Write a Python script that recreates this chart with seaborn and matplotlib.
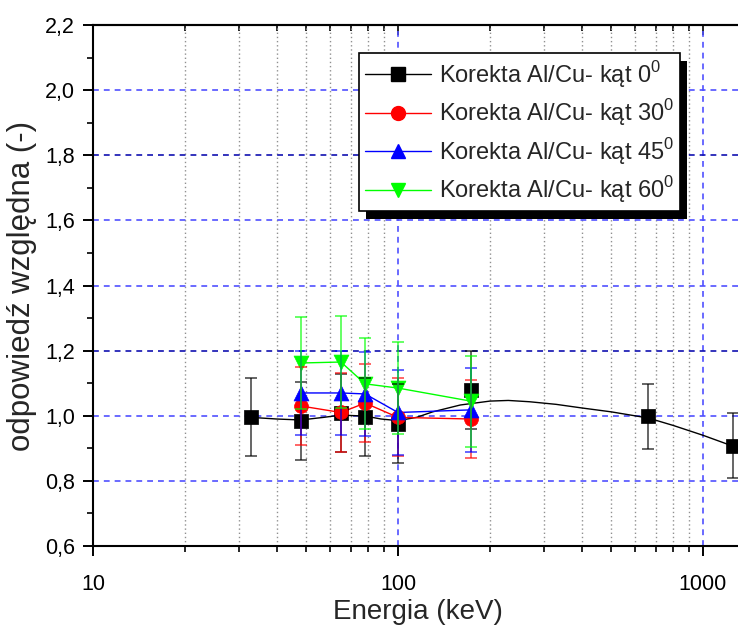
import numpy as np
import pandas as pd
import matplotlib
matplotlib.use("Agg")
import matplotlib.pyplot as plt
import matplotlib.ticker as mticker
from matplotlib.lines import Line2D
from matplotlib.patches import Rectangle
from matplotlib.transforms import IdentityTransform
import seaborn as sns

# ---------------- data ----------------
energy_0 = [33, 48, 65, 78, 100, 173, 662, 1250]
resp_0 = [0.996, 0.985, 1.008, 0.996, 0.976, 1.079, 0.998, 0.908]
err_0 = [0.12, 0.12, 0.12, 0.12, 0.12, 0.12, 0.10, 0.10]

energy_30 = [48, 65, 78, 100, 173]
resp_30 = [1.030, 1.010, 1.039, 0.995, 0.990]
err_30 = [0.12, 0.12, 0.12, 0.12, 0.12]

energy_45 = [48, 65, 78, 100, 173]
resp_45 = [1.070, 1.070, 1.067, 1.010, 1.018]
err_45 = [0.13, 0.13, 0.13, 0.13, 0.13]

energy_60 = [48, 65, 78, 100, 173]
resp_60 = [1.162, 1.165, 1.098, 1.085, 1.045]
err_60 = [0.14, 0.14, 0.14, 0.14, 0.14]

# smooth curve drawn through the 0 deg series
fit_energy_0 = [33, 40, 48, 57, 65, 78, 88, 100, 115, 130, 160, 200, 230,
                270, 330, 400, 500, 662, 800, 1000, 1250]
fit_resp_0 = [0.995, 0.990, 0.987, 0.995, 1.002, 0.999, 0.990, 0.985, 0.995,
              1.012, 1.033, 1.045, 1.047, 1.043, 1.035, 1.024, 1.012, 0.993,
              0.970, 0.940, 0.907]

series_labels = [r"Korekta Al/Cu- kąt 0$^\mathregular{0}$",
                 r"Korekta Al/Cu- kąt 30$^\mathregular{0}$",
                 r"Korekta Al/Cu- kąt 45$^\mathregular{0}$",
                 r"Korekta Al/Cu- kąt 60$^\mathregular{0}$"]
series_colors = ["#000000", "#ff0000", "#0000ff", "#00ff00"]
series_markers = ["s", "o", "^", "v"]
marker_areas = [95, 100, 115, 115]

x_ticks = [10, 100, 1000]
x_tick_labels = ["10", "100", "1000"]
y_ticks = [0.6, 0.8, 1.0, 1.2, 1.4, 1.6, 1.8, 2.0, 2.2]
y_tick_labels = ["0,6", "0,8", "1,0", "1,2", "1,4", "1,6", "1,8", "2,0", "2,2"]

x_label = "Energia (keV)"
y_label = "odpowiedź względna (-)"

# ---------------- style ----------------
sns.set_theme(style="white")
plt.rcParams["font.family"] = ["Liberation Sans", "DejaVu Sans"]
plt.rcParams["mathtext.fontset"] = "custom"
plt.rcParams["mathtext.rm"] = "Liberation Sans"

fig = plt.figure(figsize=(7.38, 6.28), dpi=100)
ax = fig.add_axes([93 / 738, 82 / 628, 650 / 738, 521 / 628])
ax.set_xscale("log")
ax.set_xlim(10, 10 ** (1 + 650 / 305))
ax.set_ylim(0.6, 2.2)

# grid lines
for yv in y_ticks[1:-1]:
    dark = abs(yv - 1.2) < 1e-9 or abs(yv - 1.8) < 1e-9
    ax.axhline(yv, color="#1010b0" if dark else "#5050ff", lw=1.2,
               ls=(0, (3.5, 3.0)), zorder=1)
ax.xaxis.grid(True, which="minor", color="#909090", ls=(0, (1, 2)), lw=1.0, zorder=1)
ax.xaxis.grid(True, which="major", color="#5050ff", ls=(0, (3.5, 3.0)), lw=1.2, zorder=1)
ax.set_axisbelow(True)

# data frames
frames = []
for e, r, s, lab in [(energy_0, resp_0, err_0, series_labels[0]),
                     (energy_30, resp_30, err_30, series_labels[1]),
                     (energy_45, resp_45, err_45, series_labels[2]),
                     (energy_60, resp_60, err_60, series_labels[3])]:
    frames.append(pd.DataFrame({"energy": e, "resp": r, "err": s, "series": lab}))
df = pd.concat(frames, ignore_index=True)
fit_df = pd.DataFrame({"energy": fit_energy_0, "resp": fit_resp_0})

# lines
sns.lineplot(data=fit_df, x="energy", y="resp", color="black", lw=1.0,
             ax=ax, zorder=2, sort=False)
for lab, col in zip(series_labels[1:], series_colors[1:]):
    sub = df[df["series"] == lab]
    sns.lineplot(data=sub, x="energy", y="resp", color=col, lw=1.0, ax=ax,
                 zorder=2, sort=False)

# markers
for lab, col, mk, ms in zip(series_labels, series_colors, series_markers, marker_areas):
    sub = df[df["series"] == lab]
    sns.scatterplot(data=sub, x="energy", y="resp", color=col, marker=mk,
                    s=ms, edgecolor=col, linewidth=0.5, ax=ax, zorder=3,
                    clip_on=False)

# error bars (drawn over markers)
for lab, col in zip(series_labels, series_colors):
    sub = df[df["series"] == lab]
    ax.errorbar(sub["energy"], sub["resp"], yerr=sub["err"], fmt="none",
                ecolor=col, elinewidth=1.3, capsize=4.5, capthick=1.3,
                alpha=0.65, zorder=4)

# axes styling
ax.set_xticks(x_ticks)
ax.set_xticklabels(x_tick_labels)
ax.xaxis.set_minor_locator(mticker.LogLocator(base=10, subs=np.arange(2, 10)))
ax.xaxis.set_minor_formatter(mticker.NullFormatter())
ax.set_yticks(y_ticks)
ax.set_yticklabels(y_tick_labels)
ax.yaxis.set_minor_locator(mticker.MultipleLocator(0.1))

ax.tick_params(axis="both", which="major", direction="out", length=7, width=1.4,
               labelsize=15.5, colors="black")
ax.tick_params(axis="x", which="major", pad=13)
ax.tick_params(axis="y", which="major", pad=6)
ax.tick_params(axis="both", which="minor", direction="out", length=4, width=1.4)
ax.tick_params(left=True, bottom=True, right=False, top=False, which="both")

for sp in ["left", "bottom", "top"]:
    ax.spines[sp].set_color("black")
    ax.spines[sp].set_linewidth(1.5)
ax.spines["right"].set_visible(False)

top = ax.secondary_xaxis("top")
top.set_xticks(x_ticks)
top.xaxis.set_minor_locator(mticker.LogLocator(base=10, subs=np.arange(2, 10)))
top.tick_params(which="major", direction="in", length=7, width=1.4, labeltop=False)
top.tick_params(which="minor", direction="in", length=4, width=1.4)
top.xaxis.set_minor_formatter(mticker.NullFormatter())
top.set_xticklabels([])
top.spines["top"].set_linewidth(1.5)

ax.set_xlabel(x_label, fontsize=20, labelpad=3)
ax.set_ylabel(y_label, fontsize=22.5, labelpad=6)

# legend
handles = [Line2D([], [], color=c, marker=m, markersize=10, lw=1.0)
           for c, m in zip(series_colors, series_markers)]
leg = ax.legend(handles, series_labels, loc="upper left",
                bbox_to_anchor=(359 / 738, 1 - 53 / 628),
                bbox_transform=fig.transFigure, borderaxespad=0,
                fontsize=17, frameon=True, fancybox=False, framealpha=1,
                edgecolor="black", handlelength=2.8, handletextpad=0.35,
                labelspacing=0.32, borderpad=0.25)
leg.get_frame().set_linewidth(1.2)
leg.set_zorder(10)

fig.canvas.draw()
bb = leg.get_window_extent()
shadow = Rectangle((bb.x0 + 7, bb.y0 - 8), bb.width, bb.height,
                   transform=IdentityTransform(), facecolor="black",
                   edgecolor="none", zorder=9.9, clip_on=False)
ax.add_artist(shadow)

fig.savefig("out.png", dpi=100)
